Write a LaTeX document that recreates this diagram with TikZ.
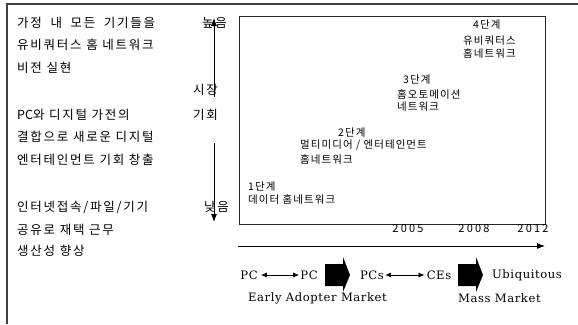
\documentclass[tikz,border=0pt]{standalone}
\usepackage{fontspec}
\newfontfamily\kr{Noto Sans CJK KR}
\newfontfamily\en{DejaVu Serif}
\usetikzlibrary{arrows.meta}
\begin{document}
\begin{tikzpicture}[x=1pt,y=-1pt,
  lefttxt/.style={anchor=west,inner sep=0pt,font=\kr\fontsize{12.5}{15}\selectfont\addfontfeature{LetterSpace=14}},
  boxtxt/.style={anchor=west,inner sep=0pt,font=\kr\fontsize{10.5}{12}\selectfont\addfontfeature{LetterSpace=10}},
  yeartxt/.style={inner sep=0pt,font=\kr\fontsize{11}{13}\selectfont\addfontfeature{LetterSpace=20}},
  entxt/.style={inner sep=1pt,font=\en\fontsize{11.6}{14}\selectfont\addfontfeature{LetterSpace=5}},
  frame/.style={draw=black!75,line width=1.3pt},
  arr/.style={-{Latex[length=8pt,width=6pt]},line width=0.9pt},
  dbl/.style={{Latex[length=6pt,width=5pt]}-{Latex[length=6pt,width=5pt]},line width=0.8pt},
  blockarrow/.style={fill=black}
]
\useasboundingbox (0,0) rectangle (578,324);
\fill[white] (0,0) rectangle (578,324);
% outer frame (top and left edges)
\draw[frame] (7,324) -- (7,4) -- (578,4);

% left texts
\node[lefttxt] (l1) at (17,23) {가정 \hspace{4pt}내 \hspace{4pt}모든 \hspace{4pt}기기들을};
\node[lefttxt] (l2) at (17,45) {유비쿼터스 홈 네트워크};
\node[lefttxt] (l3) at (17,68) {비전 실현};
\node[lefttxt] (l4) at (17,115) {{\addfontfeature{LetterSpace=0}PC}와 디지털 가전의};
\node[lefttxt] (l5) at (17,137) {결합으로 새로운 디지털};
\node[lefttxt] (l6) at (17,160) {엔터테인먼트 기회 창출};
\node[lefttxt] (l7) at (17,207) {인터넷접속/파일/기기};
\node[lefttxt] (l8) at (17,230) {공유로 재택 근무};
\node[lefttxt] (l9) at (17,251) {생산성 향상};

% market axis
\node[lefttxt] (high) at (202,23) {높음};
\node[lefttxt] (mk1) at (193,90) {시장};
\node[lefttxt] (mk2) at (193,115) {기회};
\node[lefttxt] (low) at (204,207) {낮음};
\coordinate (vtop) at (214,18);
\coordinate (vup) at (214,97);
\coordinate (vdn) at (214,143);
\coordinate (vbot) at (214,222);
\draw[arr] (vup) -- (vtop);
\draw[arr] (vdn) -- (vbot);

% stage box
\node[draw=black!85,line width=0.9pt,minimum width=306pt,minimum height=208pt,anchor=north west,inner sep=0pt] (box) at (239,16) {};
\node[boxtxt] (s4a) at (473,25) {4단계};
\node[boxtxt] (s4b) at (463,41) {유비쿼터스};
\node[boxtxt] (s4c) at (463,53) {홈네트워크};
\node[boxtxt] (s3a) at (403,80) {3단계};
\node[boxtxt] (s3b) at (397,95) {홈오토메이션};
\node[boxtxt] (s3c) at (397,107) {네트워크};
\node[boxtxt] (s2a) at (338,133) {2단계};
\node[boxtxt] (s2b) at (300,145) {멀티미디어 / 엔터테인먼트};
\node[boxtxt] (s2c) at (300,159) {홈네트워크};
\node[boxtxt] (s1a) at (248,187) {1단계};
\node[boxtxt] (s1b) at (248,200) {데이터 홈네트워크};

% years
\node[yeartxt] (y1) at (408,229) {2005};
\node[yeartxt] (y2) at (474,229) {2008};
\node[yeartxt] (y3) at (533,229) {2012};

% timeline
\coordinate (t0) at (238,246);
\coordinate (t1) at (545,246);
\draw[arr] (t0) -- (t1);

% bottom row
\node[entxt] (pc1) at (249,275) {PC};
\node[entxt] (pc2) at (309,275) {PC};
\node[entxt] (pcs) at (372,275) {PCs};
\node[entxt] (ces) at (439,275) {CEs};
\node[entxt] (ubi) at (527,275) {Ubiquitous};
\draw[dbl,shorten <=2pt] (pc1) -- (pc2);
\draw[dbl,shorten >=1pt] (pcs) -- (ces);
\fill[blockarrow] (325,264) -- (343,264) -- (343,257) -- (350,275) -- (343,292) -- (343,286) -- (325,286) -- cycle;
\fill[blockarrow] (458,264) -- (476,264) -- (476,257) -- (483,275) -- (476,292) -- (476,286) -- (458,286) -- cycle;
\node[entxt,anchor=west] (early) at (247,298) {Early Adopter Market};
\node[entxt,anchor=west] (mass) at (457,298) {Mass Market};
\end{tikzpicture}
\end{document}
